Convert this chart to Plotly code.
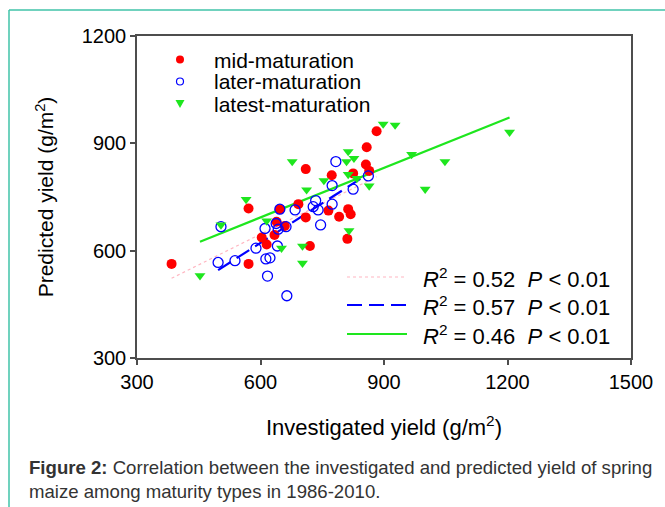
import plotly.graph_objects as go

# ---------------- data ----------------
mid_x = [384, 571, 571, 603, 615, 634, 639, 647, 659, 692, 710, 720, 710, 765, 773,
         791, 811, 813, 819, 825, 856, 858, 864, 882]
mid_y = [563, 563, 718, 637, 617, 644, 681, 716, 669, 730, 693, 613, 828, 712, 811,
         695, 633, 716, 702, 816, 841, 889, 823, 934]

later_x = [497, 504, 538, 589, 611, 613, 623, 617, 638, 641, 643, 647, 662, 664, 684,
           728, 734, 740, 746, 774, 774, 783, 825, 862]
later_y = [567, 667, 572, 607, 662, 577, 580, 529, 676, 613, 660, 716, 667, 474, 714,
           723, 740, 714, 672, 730, 782, 849, 772, 809]

latest_x = [453, 504, 565, 615, 651, 677, 702, 702, 712, 754, 809, 813, 813, 815, 827,
            834, 864, 898, 927, 967, 1000, 1048, 1205]
latest_y = [530, 672, 743, 683, 607, 849, 613, 565, 770, 796, 849, 877, 813, 656, 858,
            802, 781, 954, 951, 869, 772, 849, 931]

series_names = ["mid-maturation", "later-maturation", "latest-maturation"]
fit_slopes = [0.57, 0.738, 0.462]
fit_intercepts = [304.0, 179.0, 415.7]
fit_r2 = ["0.52", "0.57", "0.46"]
fit_p = ["0.01", "0.01", "0.01"]

x_ticks = [300, 600, 900, 1200, 1500]
y_ticks = [300, 600, 900, 1200]

caption_bold = "Figure 2:"
caption_line1 = " Correlation between the investigated and predicted yield of spring"
caption_line2 = "maize among maturity types in 1986-2010."

# ---------------- styling ----------------
RED = "#ff0000"
BLUE = "#0000ff"
GREEN = "#1ee61e"
PINK = "#ffb6c1"
AXIS = "#4d4d4d"
TEAL = "#40c3a8"
FONT = "Liberation Sans, Arial, sans-serif"

W, H = 665, 507
L, R, T, B = 137, 34, 36, 149
PW, PH = W - L - R, H - T - B


def px_x(p):
    return (p - L) / PW


def px_y(p):
    return (H - B - p) / PH


fig = go.Figure()

groups = [(mid_x, mid_y), (later_x, later_y), (latest_x, latest_y)]
line_styles = [dict(color=PINK, width=1.2, dash="dot"),
               dict(color=BLUE, width=2.2, dash="15px,7px"),
               dict(color=GREEN, width=2.2, dash="solid")]

# regression lines (drawn beneath the points)
for (gx, gy), a, b, ls in zip(groups, fit_slopes, fit_intercepts, line_styles):
    xs = [min(gx), max(gx)]
    ys = [a * v + b for v in xs]
    fig.add_trace(go.Scatter(x=xs, y=ys, mode="lines", line=ls,
                             showlegend=False, hoverinfo="skip"))

marker_styles = [
    dict(symbol="circle", size=10, color=RED, line=dict(width=0)),
    dict(symbol="circle-open", size=10, color=BLUE, line=dict(width=1.3, color=BLUE)),
    dict(symbol="triangle-down", size=9.5, color=GREEN, line=dict(width=0)),
]
for (gx, gy), name, ms in zip(groups, series_names, marker_styles):
    fig.add_trace(go.Scatter(x=gx, y=gy, mode="markers", name=name,
                             marker=ms, showlegend=False))

shapes = []
annotations = []

# ---- top legend (markers) ----
legend_rows = [59.5, 81.5, 103.5]
sym_x, txt_x = 180, 213
for i, (name, row) in enumerate(zip(series_names, legend_rows)):
    xa, ya = px_x(sym_x), px_y(row)
    if i == 0:
        shapes.append(dict(type="circle", xref="paper", yref="paper",
                           xsizemode="pixel", ysizemode="pixel",
                           xanchor=xa, yanchor=ya, x0=-4, x1=4, y0=-4, y1=4,
                           fillcolor=RED, line=dict(width=0)))
    elif i == 1:
        shapes.append(dict(type="circle", xref="paper", yref="paper",
                           xsizemode="pixel", ysizemode="pixel",
                           xanchor=xa, yanchor=ya, x0=-3.5, x1=3.5, y0=-3.5, y1=3.5,
                           fillcolor="rgba(0,0,0,0)", line=dict(width=1.2, color=BLUE)))
    else:
        shapes.append(dict(type="path", xref="paper", yref="paper",
                           xsizemode="pixel", ysizemode="pixel",
                           xanchor=xa, yanchor=ya,
                           path="M-4.5,3.5 L4.5,3.5 L0,-4.5 Z",
                           fillcolor=GREEN, line=dict(width=0)))
    annotations.append(dict(x=px_x(txt_x), y=ya, xref="paper", yref="paper",
                            text=name, showarrow=False, xanchor="left", yanchor="middle",
                            height=20, borderpad=0, valign="middle",
                            font=dict(family=FONT, size=21, color="#000")))

# ---- bottom legend (fit lines) ----
fit_rows = [277, 305, 334]
for ls, r2, p, row in zip(line_styles, fit_r2, fit_p, fit_rows):
    ya = px_y(row)
    shapes.append(dict(type="line", xref="paper", yref="paper",
                       x0=px_x(347), x1=px_x(407), y0=ya, y1=ya,
                       line=dict(color=ls["color"], width=ls["width"], dash=ls["dash"])))
    annotations.append(dict(x=px_x(421), y=ya - 0.004, xref="paper", yref="paper",
                            text=f"<i>R</i><sup>2</sup> = {r2}\u00a0\u00a0<i>P</i> &lt; {p}",
                            showarrow=False, xanchor="left", yanchor="middle",
                            font=dict(family=FONT, size=22, color="#000")))

# ---- caption ----
annotations.append(dict(x=px_x(27), y=px_y(468), xref="paper", yref="paper",
                        text=f"<b>{caption_bold}</b>{caption_line1}", showarrow=False,
                        xanchor="left", yanchor="middle",
                        font=dict(family=FONT, size=18.6, color="#333")))
annotations.append(dict(x=px_x(27), y=px_y(491), xref="paper", yref="paper",
                        text=caption_line2, showarrow=False,
                        xanchor="left", yanchor="middle",
                        font=dict(family=FONT, size=18.6, color="#333")))

# ---- outer teal frame (left & top edges) ----
shapes.append(dict(type="line", xref="paper", yref="paper",
                   x0=px_x(9), x1=px_x(9), y0=px_y(10), y1=px_y(520),
                   line=dict(color=TEAL, width=1.5)))
shapes.append(dict(type="line", xref="paper", yref="paper",
                   x0=px_x(9), x1=px_x(700), y0=px_y(10), y1=px_y(10),
                   line=dict(color=TEAL, width=1.5)))

fig.update_layout(
    width=W, height=H,
    margin=dict(l=L, r=R, t=T, b=B),
    paper_bgcolor="white", plot_bgcolor="white",
    font=dict(family=FONT, size=20, color="#000"),
    showlegend=False,
    shapes=shapes,
    annotations=annotations,
)

fig.update_xaxes(range=[300, 1500], tickvals=x_ticks, ticktext=[str(v) for v in x_ticks],
                 showgrid=False, zeroline=False, showline=True, mirror=True,
                 linecolor=AXIS, linewidth=1.5, ticks="outside", ticklen=5,
                 tickcolor=AXIS, tickwidth=1.5, tickfont=dict(size=20),
                 title=dict(text="Investigated yield (g/m<sup>2</sup>)",
                            font=dict(size=22), standoff=28))
fig.update_yaxes(range=[300, 1200], tickvals=y_ticks, ticktext=[str(v) for v in y_ticks],
                 showgrid=False, zeroline=False, showline=True, mirror=True,
                 linecolor=AXIS, linewidth=1.5, ticks="outside", ticklen=5,
                 tickcolor=AXIS, tickwidth=1.5, tickfont=dict(size=20),
                 title=dict(text="Predicted yield (g/m<sup>2</sup>)",
                            font=dict(size=21), standoff=22))

fig.write_html("out.html")
